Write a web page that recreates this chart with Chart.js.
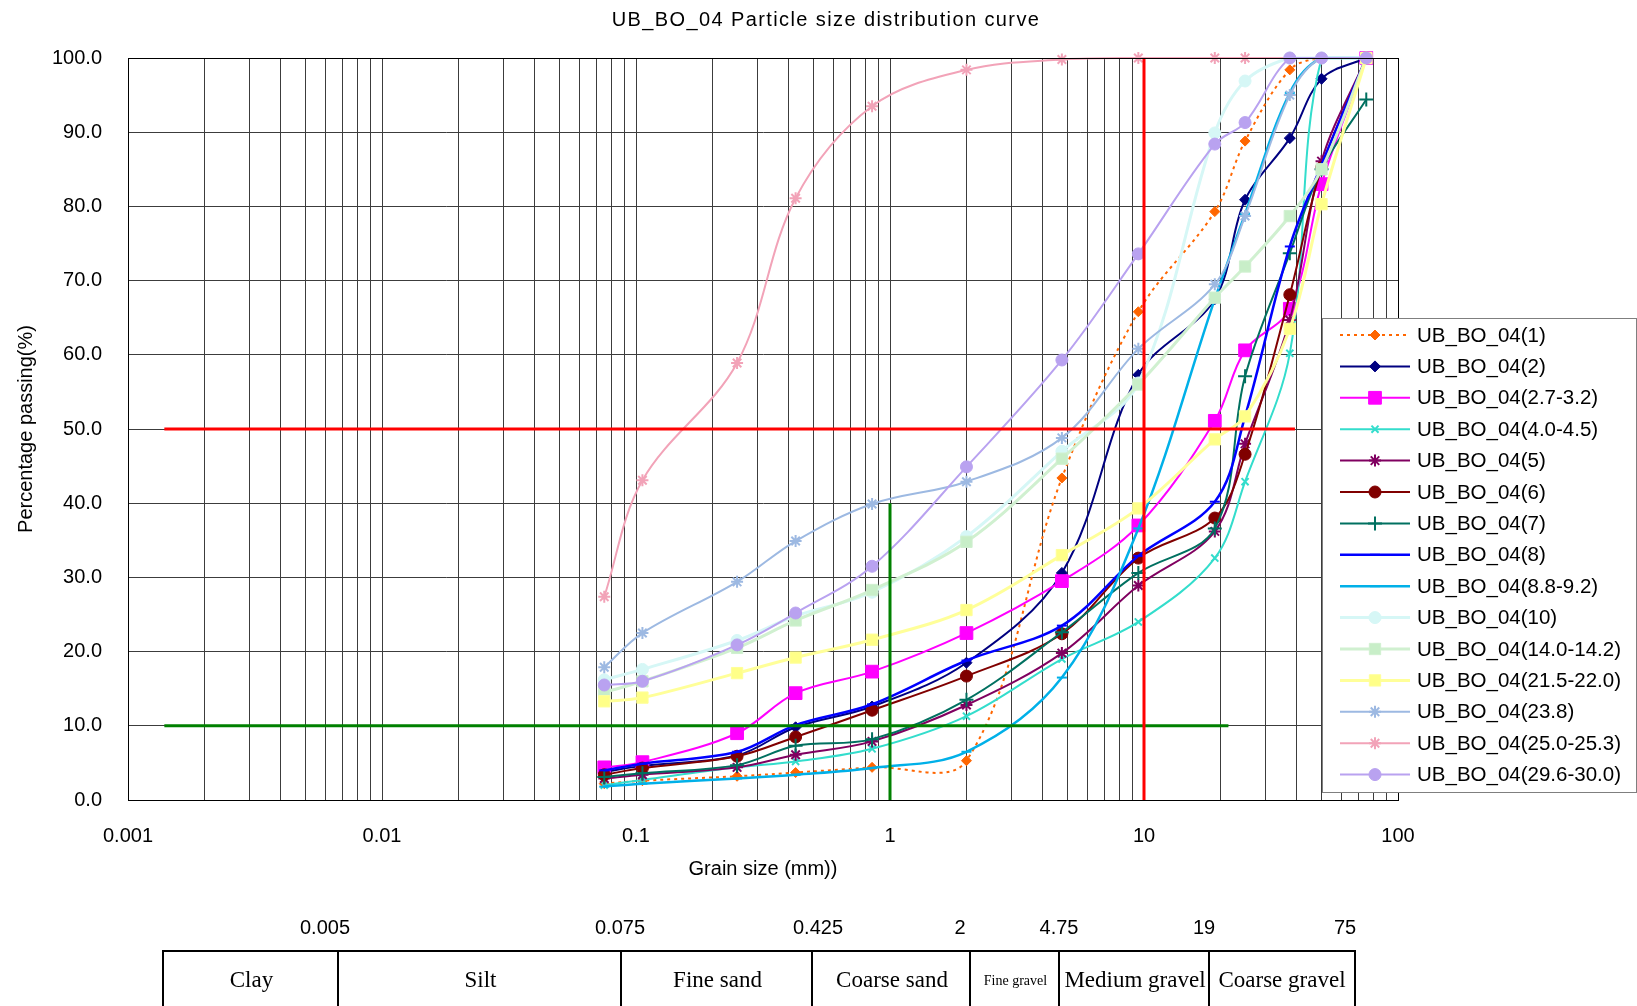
<!DOCTYPE html>
<html><head><meta charset="utf-8">
<script src="https://cdn.jsdelivr.net/npm/chart.js@4.4.1/dist/chart.umd.min.js"></script>
<style>
html,body{margin:0;padding:0;background:#fff;}
#wrap{position:relative;width:1637px;height:1006px;overflow:hidden;background:#fff;}
#c{position:absolute;left:0;top:0;}
#title{position:absolute;left:0;width:1652px;top:8px;text-align:center;font:20px "Liberation Sans",Arial,sans-serif;letter-spacing:1.4px;color:#000;}
.bl{position:absolute;top:916px;font:20px "Liberation Sans",Arial,sans-serif;transform:translateX(-50%);color:#000;white-space:nowrap;}
.cell{position:absolute;top:950px;height:60px;border-left:2px solid #000;border-top:2px solid #000;box-sizing:border-box;font-family:"Liberation Serif","Times New Roman",serif;font-size:23px;display:flex;align-items:flex-start;justify-content:center;padding-top:15px;white-space:nowrap;color:#000;}
</style></head>
<body>
<div id="wrap">
<canvas id="c" width="1637" height="1006"></canvas>
<div id="title"></div>
</div>
<script>
// ---------------- data ----------------
const chartTitle = 'UB_BO_04 Particle size distribution curve';
const sizes = [0.075, 0.106, 0.25, 0.425, 0.85, 2, 4.75, 9.5, 19, 25, 37.5, 50, 75];
const seriesNames = ['UB_BO_04(1)','UB_BO_04(2)','UB_BO_04(2.7-3.2)','UB_BO_04(4.0-4.5)','UB_BO_04(5)','UB_BO_04(6)','UB_BO_04(7)','UB_BO_04(8)','UB_BO_04(8.8-9.2)','UB_BO_04(10)','UB_BO_04(14.0-14.2)','UB_BO_04(21.5-22.0)','UB_BO_04(23.8)','UB_BO_04(25.0-25.3)','UB_BO_04(29.6-30.0)'];
const v1  = [2.2, 2.6, 3.2, 3.7, 4.4, 5.3, 43.4, 65.8, 79.3, 88.8, 98.4, 100, 100];
const v2  = [3.8, 4.6, 6.0, 9.8, 12.6, 18.5, 30.6, 57.3, 67.5, 80.9, 89.2, 97.2, 100];
const v3  = [4.4, 5.1, 9.0, 14.4, 17.3, 22.5, 29.5, 37.0, 51.1, 60.6, 66.2, 83.0, 100];
const v4  = [2.0, 2.7, 4.4, 5.2, 6.9, 11.3, 19.0, 24.0, 32.6, 42.9, 60.2, 100, 100];
const v5  = [2.9, 3.4, 4.4, 6.1, 7.9, 12.8, 19.8, 28.9, 36.2, 48.0, 64.7, 86.1, 100];
const v6  = [3.4, 4.3, 5.9, 8.5, 12.1, 16.7, 22.4, 32.6, 38.0, 46.6, 68.1, 85.2, 100];
const v7  = [3.1, 3.6, 4.7, 7.3, 8.2, 13.5, 22.6, 30.6, 36.6, 57.1, 73.7, 85.0, 94.4];
const v8  = [4.0, 4.9, 6.5, 10.1, 12.9, 18.8, 23.5, 32.9, 40.2, 51.7, 74.6, 85.6, 100];
const v9  = [1.8, 2.2, 2.9, 3.4, 4.3, 6.5, 16.5, 36.6, 67.5, 79.0, 95.3, 100, 100];
const v10 = [16.2, 17.6, 21.5, 24.8, 28.0, 35.5, 47.0, 56.2, 89.9, 96.9, 100, 100, 100];
const v11 = [14.5, 16.0, 20.5, 24.2, 28.3, 34.8, 46.0, 56.0, 67.7, 71.9, 78.7, 85.0, 100];
const v12 = [13.3, 13.8, 17.1, 19.2, 21.6, 25.6, 33.0, 39.3, 48.6, 51.7, 63.5, 80.3, 100];
const v13 = [17.9, 22.5, 29.4, 34.9, 39.9, 42.9, 48.8, 60.8, 69.5, 78.7, 95.0, 100, 100];
const v14 = [27.4, 43.1, 58.9, 81.1, 93.5, 98.4, 99.8, 100, 100, 100, 100, 100, 100];
const v15 = [15.5, 16.0, 20.9, 25.2, 31.5, 44.9, 59.3, 73.6, 88.4, 91.3, 100, 100, 100];
const seriesValues = [v1,v2,v3,v4,v5,v6,v7,v8,v9,v10,v11,v12,v13,v14,v15];
// reference lines (D10 / D50 guides)
const redHx = [0.00139, 39.3],  redHy = [50, 50];
const redVx = [10, 10],         redVy = [0, 100];
const grnHx = [0.00139, 21.5],  grnHy = [10, 10];
const grnVx = [1, 1],           grnVy = [0, 40];
const yTickStep = 10;
const xMajorLabels = ['0.001','0.01','0.1','1','10','100'];
const xAxisTitle = 'Grain size (mm))';
const yAxisTitle = 'Percentage passing(%)';
const boundaryLabels = ['0.005','0.075','0.425','2','4.75','19','75'];
const soilClasses = ['Clay','Silt','Fine sand','Coarse sand','Fine gravel','Medium gravel','Coarse gravel'];

// ---------------- styles ----------------
const FONT = '"Liberation Sans", Arial, sans-serif';
const seriesStyles = [
  {c:'#FF6600', w:2, dash:[3,4], ps:'rectRot', r:5, fill:'#FF6600'},
  {c:'#000080', w:2, dash:[], ps:'rectRot', r:5.5, fill:'#000080'},
  {c:'#FF00FF', w:2, dash:[], ps:'rect', r:9, fill:'#FF00FF'},
  {c:'#33DDCC', w:2, dash:[], ps:'crossRot', r:5, fill:'#33DDCC'},
  {c:'#800060', w:2, dash:[], ps:'star', r:6, fill:'#800060'},
  {c:'#800000', w:2, dash:[], ps:'circle', r:6, fill:'#800000'},
  {c:'#007060', w:2, dash:[], ps:'cross', r:7, fill:'#007060'},
  {c:'#0000FF', w:2.5, dash:[], ps:'line', r:5, fill:'#0000FF'},
  {c:'#00B0E8', w:2.5, dash:[], ps:'line', r:5, fill:'#00B0E8'},
  {c:'#D6F7F6', w:3, dash:[], ps:'circle', r:6, fill:'#D6F7F6'},
  {c:'#D0F0D0', w:3, dash:[], ps:'rect', r:8, fill:'#C8EEC8'},
  {c:'#FFFF99', w:3, dash:[], ps:'rect', r:8, fill:'#FFFF88'},
  {c:'#9DB9E2', w:2, dash:[], ps:'star', r:6, fill:'#9DB9E2'},
  {c:'#F2A3B8', w:2, dash:[], ps:'star', r:6, fill:'#F2A3B8'},
  {c:'#B9A2F0', w:2, dash:[], ps:'circle', r:6, fill:'#B9A2F0'}
];

document.getElementById('title').textContent = chartTitle;

const N = seriesValues.length;
const datasets = seriesValues.map((vals, i) => {
  const s = seriesStyles[i];
  return {
    label: seriesNames[i],
    data: sizes.map((x, k) => ({x: x, y: vals[k]})),
    borderColor: s.c, backgroundColor: s.fill,
    borderWidth: s.w, borderDash: s.dash,
    pointStyle: s.ps, pointRadius: s.r, pointBorderColor: s.c, pointBackgroundColor: s.fill,
    pointBorderWidth: (s.ps === 'cross' || s.ps === 'crossRot' || s.ps === 'star' || s.ps === 'line') ? 2 : 1,
    tension: 0.35, showLine: true, fill: false, order: N - i + 10, clip: false
  };
});
function refLine(xs, ys, color, name) {
  return {label: name, data: xs.map((x, k) => ({x: x, y: ys[k]})), borderColor: color,
    borderWidth: 3, pointRadius: 0, tension: 0, showLine: true, fill: false, order: 1, isRef: true};
}
datasets.push(refLine(redHx, redHy, '#FF0000', 'D50'));
datasets.push(refLine(redVx, redVy, '#FF0000', 'D50x'));
datasets.push(refLine(grnHx, grnHy, '#008000', 'D10'));
datasets.push(refLine(grnVx, grnVy, '#008000', 'D10x'));

// ---------------- plugins ----------------
const frame = {
  id: 'frame',
  afterDraw(chart) {
    const {ctx, chartArea: a} = chart;
    ctx.save();
    ctx.strokeStyle = '#000'; ctx.lineWidth = 1;
    ctx.strokeRect(Math.round(a.left) + 0.5, Math.round(a.top) + 0.5, Math.round(a.right - a.left), Math.round(a.bottom - a.top));
    ctx.restore();
  }
};
const boxLegend = {
  id: 'boxLegend',
  afterDraw(chart) {
    const ctx = chart.ctx;
    const L = {left: 1322, top: 318, right: 1637, bottom: 792, x0: 1340, x1: 1410, tx: 1417, y0: 335, dy: 31.4};
    ctx.save();
    ctx.fillStyle = '#fff';
    ctx.fillRect(L.left, L.top, L.right - L.left, L.bottom - L.top);
    ctx.strokeStyle = '#7f7f7f'; ctx.lineWidth = 1;
    ctx.strokeRect(L.left + 0.5, L.top + 0.5, L.right - L.left - 1, L.bottom - L.top);
    chart.data.datasets.forEach((ds, i) => {
      if (ds.isRef) return;
      const y = L.y0 + i * L.dy;
      ctx.save();
      ctx.strokeStyle = ds.borderColor; ctx.lineWidth = ds.borderWidth;
      ctx.setLineDash(ds.borderDash || []);
      ctx.beginPath(); ctx.moveTo(L.x0, y); ctx.lineTo(L.x1, y); ctx.stroke();
      ctx.setLineDash([]);
      ctx.fillStyle = ds.pointBackgroundColor; ctx.strokeStyle = ds.pointBorderColor;
      ctx.lineWidth = ds.pointBorderWidth;
      Chart.helpers.drawPoint(ctx, {pointStyle: ds.pointStyle, rotation: 0, radius: ds.pointRadius, borderWidth: ds.pointBorderWidth}, (L.x0 + L.x1) / 2, y);
      ctx.restore();
      ctx.fillStyle = '#000'; ctx.font = '20.5px ' + FONT; ctx.textBaseline = 'middle'; ctx.textAlign = 'left';
      ctx.fillText(ds.label, L.tx, y + 1);
    });
    ctx.restore();
  }
};

const majorMap = {};
xMajorLabels.forEach(l => { majorMap[parseFloat(l)] = l; });

new Chart(document.getElementById('c'), {
  type: 'scatter',
  data: {datasets: datasets},
  options: {
    responsive: false, animation: false, devicePixelRatio: 1,
    layout: {padding: {left: 0, right: 239, top: 58, bottom: 0}},
    plugins: {legend: {display: false}, title: {display: false}, tooltip: {enabled: false}},
    elements: {line: {capBezierPoints: true}},
    scales: {
      x: {
        type: 'logarithmic', min: 0.001, max: 100, position: 'bottom',
        afterBuildTicks(s) {
          const t = [];
          for (let e = -3; e <= 2; e++) for (let m = 1; m <= 9; m++) {
            const v = parseFloat((m * Math.pow(10, e)).toPrecision(3));
            if (v >= 0.001 && v <= 100) t.push({value: v, major: m === 1});
          }
          s.ticks = t;
        },
        afterFit(s) { s.height = 206; },
        ticks: {autoSkip: false, maxRotation: 0, padding: 24, color: '#000', font: {family: FONT, size: 20},
          callback: (v) => (majorMap[v] !== undefined ? majorMap[v] : '')},
        grid: {color: '#3c3c3c', lineWidth: 1, drawTicks: false},
        border: {display: true, color: '#000'},
        title: {display: true, text: xAxisTitle, color: '#000', font: {family: FONT, size: 20}, padding: {top: 0, bottom: 125}}
      },
      y: {
        min: 0, max: 100,
        afterFit(s) { s.width = 128; },
        ticks: {stepSize: yTickStep, padding: 26, color: '#000', font: {family: FONT, size: 20}, callback: (v) => Number(v).toFixed(1)},
        grid: {color: '#3c3c3c', lineWidth: 1, drawTicks: false},
        border: {display: true, color: '#000'},
        title: {display: true, text: yAxisTitle, color: '#000', font: {family: FONT, size: 20}, padding: {top: 14, bottom: 0}}
      }
    }
  },
  plugins: [frame, boxLegend]
});

// ---------------- soil classification table ----------------
const wrap = document.getElementById('wrap');
const boundaryPos = [325, 620, 818, 960, 1059, 1204, 1345];
const cellEdges = [162, 337, 620, 811, 969, 1058, 1208, 1354];
boundaryLabels.forEach((t, i) => {
  const d = document.createElement('div'); d.className = 'bl'; d.textContent = t;
  d.style.left = boundaryPos[i] + 'px'; wrap.appendChild(d);
});
soilClasses.forEach((t, i) => {
  const d = document.createElement('div'); d.className = 'cell'; d.textContent = t;
  d.style.left = cellEdges[i] + 'px'; d.style.width = (cellEdges[i + 1] - cellEdges[i] + 2) + 'px';
  if (i === soilClasses.length - 1) d.style.borderRight = '2px solid #000';
  if (t === 'Fine gravel') { d.style.fontSize = '14px'; d.style.paddingTop = '21px'; }
  wrap.appendChild(d);
});
</script>
</body></html>
